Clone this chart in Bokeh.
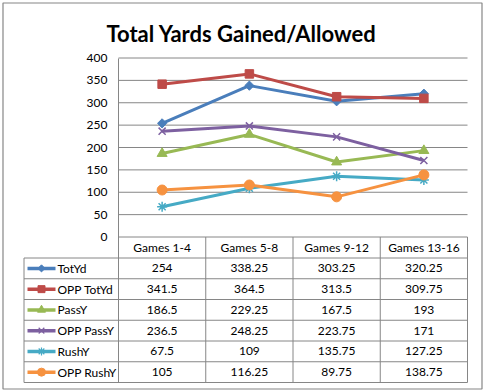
from bokeh.plotting import figure
from bokeh.models import Range1d, LinearAxis, FixedTicker
from bokeh.core.properties import value
from bokeh.embed import file_html
from bokeh.resources import INLINE

# ---------------- data ----------------
title_text = "Total Yards Gained/Allowed"
categories = ["Games 1-4", "Games 5-8", "Games 9-12", "Games 13-16"]
series_names = ["TotYd", "OPP TotYd", "PassY", "OPP PassY", "RushY", "OPP RushY"]
tot_yd = [254, 338.25, 303.25, 320.25]
opp_tot_yd = [341.5, 364.5, 313.5, 309.75]
pass_y = [186.5, 229.25, 167.5, 193]
opp_pass_y = [236.5, 248.25, 223.75, 171]
rush_y = [67.5, 109, 135.75, 127.25]
opp_rush_y = [105, 116.25, 89.75, 138.75]
y_ticks = [0, 50, 100, 150, 200, 250, 300, 350, 400]
series_values = [tot_yd, opp_tot_yd, pass_y, opp_pass_y, rush_y, opp_rush_y]

# ---------------- styles ----------------
colors = ["#4a7ebb", "#be4b48", "#98b954", "#7d60a0", "#46aac5", "#f69240"]
markers = ["square", "square", "triangle", "x", "asterisk", "circle"]
marker_sizes = [6.5, 8.5, 10, 10, 10, 10]
marker_angles = [0.785398, 0, 0, 0, 0, 0]
leg_sizes = [5, 7, 8, 8, 8, 8]
GRAY = "#868686"
FONT = "Lato"

# ---------------- layout (page pixels) ----------------
OFF = 0
FIG_W, FIG_H = 483, 390
PLOT_L, PLOT_R = 118, 467
Y0_PX, YTOP_PX = 236.5, 57.5
cat_w = (PLOT_R - PLOT_L) / len(categories)
ppu = (Y0_PX - YTOP_PX) / y_ticks[-1]

x_start = (OFF - PLOT_L) / cat_w - 0.5
x_end = (OFF + FIG_W - PLOT_L) / cat_w - 0.5
y_start = -(OFF + FIG_H - Y0_PX) / ppu
y_end = (Y0_PX - OFF) / ppu

p = figure(width=FIG_W, height=FIG_H, output_backend="svg", toolbar_location=None,
           x_axis_type=None, y_axis_type=None,
           x_range=Range1d(x_start, x_end), y_range=Range1d(y_start, y_end),
           min_border=0, min_border_left=0, min_border_right=0,
           min_border_top=0, min_border_bottom=0)
p.outline_line_color = None
p.background_fill_color = "white"
p.border_fill_color = "white"
p.extra_x_ranges = {"px": Range1d(OFF, OFF + FIG_W)}
p.extra_y_ranges = {"px": Range1d(OFF + FIG_H, OFF)}

cat_idx = list(range(len(categories)))
cat_lo = -0.5
cat_hi = len(categories) - 0.5

# gridlines (including the baseline at 0)
p.segment(x0=[cat_lo] * len(y_ticks), x1=[cat_hi] * len(y_ticks), y0=y_ticks, y1=y_ticks,
          line_color=GRAY, line_width=1)

# y axis placed at the left edge of the category area
yaxis = LinearAxis(fixed_location=cat_lo, bounds=(y_ticks[0], y_ticks[-1]),
                   ticker=FixedTicker(ticks=y_ticks))
yaxis.axis_line_color = GRAY
yaxis.major_tick_out = 0
yaxis.major_tick_in = 0
yaxis.minor_tick_out = 0
yaxis.minor_tick_in = 0
yaxis.major_label_standoff = 11
yaxis.major_label_text_font = FONT
yaxis.major_label_text_font_size = "12px"
yaxis.major_label_text_color = "black"
p.add_layout(yaxis, "left")

# series lines and markers
for vals, col, mk, ms, ang in zip(series_values, colors, markers, marker_sizes, marker_angles):
    p.line(x=cat_idx, y=vals, line_color=col, line_width=3)
    p.scatter(x=cat_idx, y=vals, marker=mk, size=ms, angle=ang,
              fill_color=col, line_color=col, line_width=1.5 if mk in ("x", "asterisk") else 1)

# ---------------- data table ----------------
HDR_TOP, HDR_BOT = 236.5, 257.5
ROW_H = 20.75
LEG_L = 23.5
n_rows = len(series_names)
row_lines = [HDR_BOT + k * ROW_H for k in range(n_rows + 1)]
TBL_BOT = row_lines[-1]

# horizontal table lines (legend column left edge to table right edge)
p.segment(x0=[LEG_L] * len(row_lines), x1=[PLOT_R] * len(row_lines), y0=row_lines, y1=row_lines,
          line_color=GRAY, line_width=1, x_range_name="px", y_range_name="px")
# vertical table lines at category boundaries
bounds_x = [i - 0.5 for i in range(len(categories) + 1)]
p.segment(x0=bounds_x, x1=bounds_x, y0=[HDR_TOP] * len(bounds_x), y1=[TBL_BOT] * len(bounds_x),
          line_color=GRAY, line_width=1, y_range_name="px")
# legend column left edge
p.segment(x0=[LEG_L], x1=[LEG_L], y0=[HDR_BOT], y1=[TBL_BOT],
          line_color=GRAY, line_width=1, x_range_name="px", y_range_name="px")

# header labels
p.text(x=cat_idx, y=[(HDR_TOP + HDR_BOT) / 2] * len(categories), text=categories,
       text_align="center", text_baseline="middle", text_font=value(FONT),
       text_font_size="12px", text_color="black", y_range_name="px")

# cell values
for k, vals in enumerate(series_values):
    yc = HDR_BOT + (k + 0.5) * ROW_H
    p.text(x=cat_idx, y=[yc] * len(vals), text=[f"{v:g}" for v in vals],
           text_align="center", text_baseline="middle", text_font=value(FONT),
           text_font_size="12px", text_color="black", y_range_name="px")

# legend keys
LEG_LINE_L, LEG_LINE_R, LEG_MK, LEG_TXT = 27, 55, 41, 57
for k, (name, col, mk, ls, ang) in enumerate(zip(series_names, colors, markers, leg_sizes, marker_angles)):
    yc = HDR_BOT + (k + 0.5) * ROW_H
    p.line(x=[LEG_LINE_L, LEG_LINE_R], y=[yc, yc], line_color=col, line_width=3.5,
           x_range_name="px", y_range_name="px")
    p.scatter(x=[LEG_MK], y=[yc], marker=mk, size=ls, angle=ang, fill_color=col, line_color=col,
              line_width=1.2 if mk in ("x", "asterisk") else 1,
              x_range_name="px", y_range_name="px")
    p.text(x=[LEG_TXT], y=[yc], text=[name], text_align="left", text_baseline="middle",
           text_font=value(FONT), text_font_size="12px", text_color="black",
           x_range_name="px", y_range_name="px")

# title
p.text(x=[241], y=[33], text=[title_text], text_align="center", text_baseline="alphabetic",
       text_font=value(FONT), text_font_style="bold", text_font_size="22px", text_color="black",
       x_range_name="px", y_range_name="px")

# outer chart border
p.quad(left=[2.5], right=[481.5], top=[2.5], bottom=[388.5],
       fill_color=None, line_color=GRAY, line_width=1.2,
       x_range_name="px", y_range_name="px")

open("out.html", "w").write(file_html(p, INLINE))
